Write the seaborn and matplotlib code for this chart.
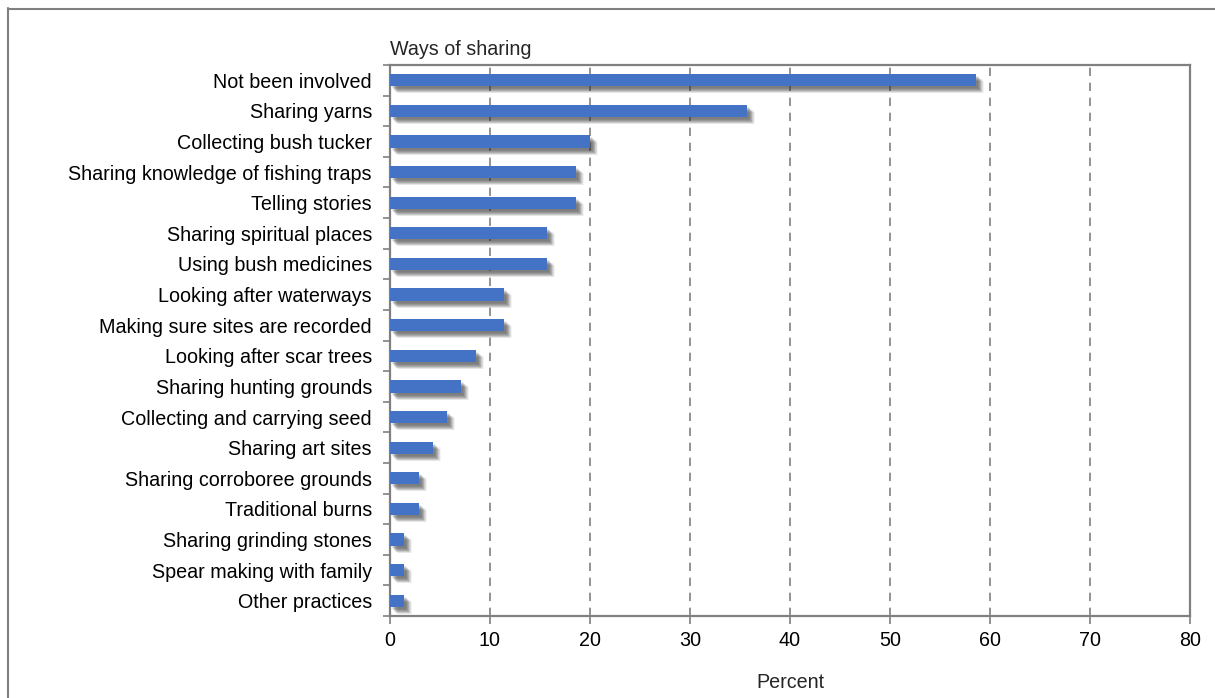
import numpy as np
import pandas as pd
import matplotlib
matplotlib.use("Agg")
import matplotlib.pyplot as plt
import matplotlib.patheffects as pe
from matplotlib.lines import Line2D
import seaborn as sns

categories = [
    "Not been involved", "Sharing yarns", "Collecting bush tucker",
    "Sharing knowledge of fishing traps", "Telling stories",
    "Sharing spiritual places", "Using bush medicines",
    "Looking after waterways", "Making sure sites are recorded",
    "Looking after scar trees", "Sharing hunting grounds",
    "Collecting and carrying seed", "Sharing art sites",
    "Sharing corroboree grounds", "Traditional burns",
    "Sharing grinding stones", "Spear making with family", "Other practices",
]
percent = [58.6, 35.7, 20.0, 18.6, 18.6, 15.7, 15.7, 11.4, 11.4, 8.6,
           7.1, 5.7, 4.3, 2.9, 2.9, 1.4, 1.4, 1.4]
x_ticks = [0, 10, 20, 30, 40, 50, 60, 70, 80]

df = pd.DataFrame({"category": categories, "percent": percent})

sns.set_theme(style="white")
plt.rcParams["font.family"] = ["Liberation Sans", "DejaVu Sans"]
FS = 14.2

fig = plt.figure(figsize=(12.15, 6.98), dpi=100)
ax = fig.add_axes([390/1215, 1-616/698, 800/1215, (616-65)/698])

sns.barplot(data=df, x="percent", y="category", orient="h", color="#4472C4",
            saturation=1, width=0.4, ax=ax, zorder=3)

# soft blurred drop shadow approximated by stacked offset shadows (pixel offsets)
shadow = []
for dx, dy, a in [(8, -7, 0.05), (7, -7, 0.07), (6, -6, 0.09), (7, -5, 0.06),
                  (5, -6, 0.08), (5, -5, 0.12), (4, -4, 0.16), (3, -3, 0.16),
                  (2, -2, 0.10)]:
    shadow.append(pe.SimplePatchShadow(offset=(dx * 0.72, dy * 0.72),
                                       shadow_rgbFace="#303030", alpha=a))
shadow.append(pe.Normal())
for p in ax.patches:
    p.set_path_effects(shadow)
    p.set_edgecolor("none")

ax.set_xlim(0, 80)
ax.set_xticks(x_ticks)
ax.set_xticklabels([str(t) for t in x_ticks], fontsize=FS)
ax.set_ylim(len(categories) - 0.5, -0.5)
ax.set_yticks(range(len(categories)))
ax.set_yticklabels(categories, fontsize=FS)
ax.set_yticks(np.arange(-0.5, len(categories), 1), minor=True)
ax.tick_params(axis="y", which="major", length=0, pad=13, colors="black")
ax.tick_params(axis="y", which="minor", length=5, width=1.2, color="#808080", left=True)
ax.tick_params(axis="x", which="major", length=6, width=1.2, color="#808080",
               bottom=True, pad=5, labelcolor="black")

ax.grid(axis="x", linestyle=(0, (5, 4)), color="#808080", linewidth=1.2, zorder=0)
ax.grid(axis="y", visible=False)
ax.set_axisbelow(True)
for s in ax.spines.values():
    s.set_color("#808080")
    s.set_linewidth(1.6)
    s.set_visible(True)

ax.set_ylabel("")
ax.set_xlabel("Percent", fontsize=FS, labelpad=16)
ax.text(0, 1.01, "Ways of sharing", transform=ax.transAxes, ha="left", va="bottom",
        fontsize=FS)

# outer frame (left and top)
fig.add_artist(Line2D([8/1215, 8/1215], [0, 1-8/698], transform=fig.transFigure,
                      color="#808080", linewidth=1.5))
fig.add_artist(Line2D([8/1215, 1], [1-9/698, 1-9/698], transform=fig.transFigure,
                      color="#808080", linewidth=1.5))

fig.savefig("out.png", dpi=100)
